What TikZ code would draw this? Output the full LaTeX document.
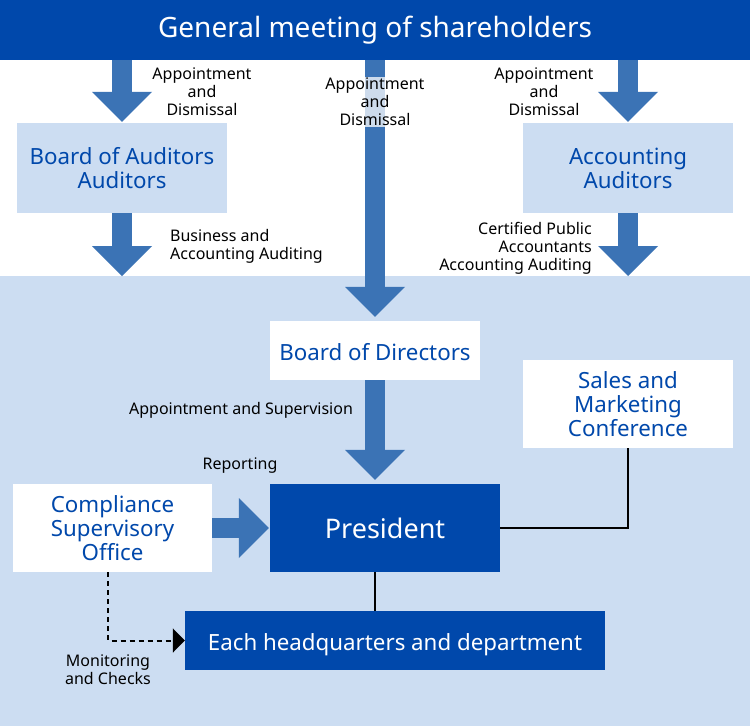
\documentclass[tikz,border=0pt]{standalone}
\usepackage{fontspec}
\setmainfont{Noto Sans}
\usetikzlibrary{arrows.meta,positioning,calc}
\definecolor{gmblue}{RGB}{0,72,171}
\definecolor{arrowblue}{RGB}{59,115,181}
\definecolor{paleblue}{RGB}{204,221,242}
\newcommand{\smallfont}{\fontsize{16}{18}\selectfont}
\newcommand{\boxfont}{\fontsize{22.3}{24}\selectfont}

\begin{document}
\begin{tikzpicture}[x=1pt, y=-1pt,
  box/.style={inner sep=0pt, align=center, text=gmblue, font=\boxfont},
  palebox/.style={box, fill=paleblue, minimum width=210pt, minimum height=90pt},
  whitebox/.style={box, fill=white},
  darkbox/.style={inner sep=0pt, align=center, fill=gmblue, text=white},
  oneline/.style={text height=20pt, text depth=0pt},
  bigarrow/.style={draw=arrowblue, line width=20pt,
    -{Triangle[length=30pt, width=60pt, line width=0pt, fill=arrowblue]}},
  tag/.style={font=\smallfont, align=center, inner sep=1pt}]
  \useasboundingbox (0,0) rectangle (750,726);
  \fill[white] (0,0) rectangle (750,276);
  \fill[paleblue] (0,276) rectangle (750,726);

  % top row
  \node[darkbox, minimum width=750pt, minimum height=60pt, font=\fontsize{28}{30}\selectfont]
    (gm) at (375,30) {General meeting of shareholders};
  \node[palebox] (aud) at (122,168) {Board of Auditors\\Auditors};
  \node[palebox] (acc) at (628,168) {Accounting\\Auditors};
  \coordinate (audend) at (122,276);
  \coordinate (accend) at (628,276);

  % management
  \node[whitebox, oneline, minimum width=210pt, minimum height=59pt] (bod) at (375,350.5)
    {Board of Directors};
  \node[darkbox, minimum width=230pt, minimum height=88pt, font=\fontsize{27}{30}\selectfont]
    (pres) at (385,528) {President};
  \node[whitebox, minimum width=199pt, minimum height=88pt] (comp) at (112.5,528)
    {Compliance\\Supervisory\\Office};
  \node[whitebox, minimum width=210pt, minimum height=88pt] (sales) at (628,404)
    {Sales and\\Marketing\\Conference};
  \node[darkbox, oneline, minimum width=420pt, minimum height=59pt, font=\boxfont] (hq) at (395,640.5)
    {Each headquarters and department};

  % thick arrows
  \draw[bigarrow, shorten >=1pt] (gm.south -| aud) -- (aud.north);
  \draw[bigarrow] (aud.south) -- (audend);
  \draw[bigarrow, shorten >=1pt] (gm.south -| acc) -- (acc.north);
  \draw[bigarrow] (acc.south) -- (accend);
  \draw[bigarrow, shorten >=4pt] (gm.south -| bod) -- (bod.north);
  \draw[bigarrow, shorten >=4pt] (bod.south) -- (bod.south |- pres.north);
  \draw[bigarrow, shorten >=1pt] (comp.east) -- (pres.west);

  % thin lines
  \draw[line width=2pt] (sales.south) |- (pres.east);
  \draw[line width=2pt] (bod.south |- pres.south) -- (bod.south |- hq.north);
  \draw[line width=2pt, dash pattern=on 5pt off 4pt,
    -{Triangle[length=12pt, width=24pt]}] ($(comp.south)+(-4.5,0)$) |- (hq.west);

  % labels
  \node[tag] (l1) at (202,92) {Appointment\\and\\Dismissal};
  \node[tag, fill=white, fill opacity=0.75, text opacity=1] (l2) at (375,102)
    {Appointment\\and\\Dismissal};
  \node[tag] (l3) at (544,92) {Appointment\\and\\Dismissal};
  \node[tag, align=left, anchor=west] (l4) at (169,246) {Business and\\Accounting Auditing};
  \node[tag, align=right, anchor=east] (l5) at (593,248)
    {Certified Public\\Accountants\\Accounting Auditing};
  \node[tag] (l6) at (241,410) {Appointment and Supervision};
  \node[tag] (l7) at (240,466) {Reporting};
  \node[tag] (l8) at (108,670) {Monitoring\\and Checks};
\end{tikzpicture}
\end{document}
